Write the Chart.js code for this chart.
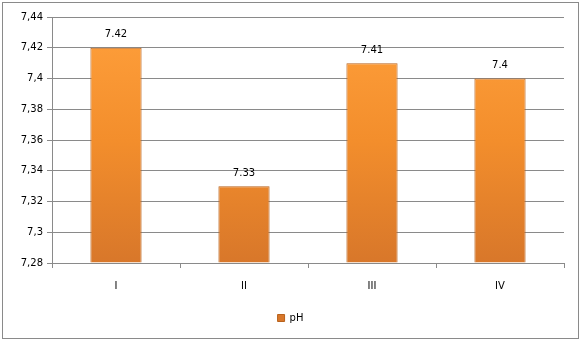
<!DOCTYPE html>
<html>
<head>
<meta charset="utf-8">
<script src="https://cdn.jsdelivr.net/npm/chart.js@4/dist/chart.umd.min.js"></script>
<style>
  html, body { margin: 0; padding: 0; background: #fff; }
  #wrap { width: 581px; height: 341px; }
</style>
</head>
<body>
<div id="wrap"><canvas id="chart" width="581" height="341"></canvas></div>
<script>
// Donnees du graphique
const categories = ['I', 'II', 'III', 'IV'];
const valeursPH = [7.42, 7.33, 7.41, 7.4];
const nomSerie = 'pH';
const yMin = 7.28;
const yMax = 7.44;
const yPas = 0.02;

const police = '"DejaVu Sans", Verdana, sans-serif';

// Degrade orange des barres
function degradeBarre(context) {
    const chart = context.chart;
    const area = chart.chartArea;
    if (!area) return '#F7922F';
    const g = chart.ctx.createLinearGradient(0, area.top, 0, area.bottom);
    g.addColorStop(0, '#FFA03C');
    g.addColorStop(0.5, '#F38E2C');
    g.addColorStop(1, '#D8772A');
    return g;
}

// Cadre exterieur
const cadre = {
    id: 'cadre',
    beforeDraw(chart) {
        const ctx = chart.ctx;
        ctx.save();
        ctx.fillStyle = '#fff';
        ctx.fillRect(0, 0, chart.width, chart.height);
        ctx.strokeStyle = '#8a8a8a';
        ctx.lineWidth = 1;
        ctx.strokeRect(2.5, 2.5, chart.width - 5, chart.height - 5);
        ctx.restore();
    }
};

// Etiquettes de valeur au-dessus des barres
const etiquettes = {
    id: 'etiquettes',
    afterDatasetsDraw(chart) {
        const ctx = chart.ctx;
        const meta = chart.getDatasetMeta(0);
        ctx.save();
        ctx.font = '10px ' + police;
        ctx.fillStyle = '#000';
        ctx.textAlign = 'center';
        ctx.textBaseline = 'bottom';
        meta.data.forEach((bar, i) => {
            ctx.fillText(String(valeursPH[i]), bar.x, bar.y - 8);
        });
        ctx.restore();
    }
};

new Chart(document.getElementById('chart').getContext('2d'), {
    type: 'bar',
    data: {
        labels: categories,
        datasets: [{
            label: nomSerie,
            data: valeursPH,
            base: yMin,
            backgroundColor: degradeBarre,
            borderColor: '#B8621C',
            borderWidth: 1,
            barPercentage: 0.8,
            categoryPercentage: 0.5
        }]
    },
    options: {
        responsive: false,
        animation: false,
        layout: { padding: { left: 0, right: 0, top: 17, bottom: 8 } },
        plugins: {
            legend: {
                position: 'bottom',
                labels: {
                    boxWidth: 7,
                    boxHeight: 7,
                    color: '#000',
                    font: { family: police, size: 10 },
                    padding: 10
                }
            },
            tooltip: { enabled: false }
        },
        scales: {
            x: {
                grid: { drawOnChartArea: false, color: '#8a8a8a', tickLength: 5 },
                border: { color: '#8a8a8a' },
                ticks: { color: '#000', font: { family: police, size: 10 }, padding: 12 },
                afterFit(scale) { scale.height = 40; }
            },
            y: {
                min: yMin,
                max: yMax,
                grid: { color: '#8a8a8a', tickLength: 5 },
                border: { color: '#8a8a8a' },
                ticks: {
                    stepSize: yPas,
                    color: '#000',
                    padding: 4,
                    font: { family: police, size: 10 },
                    callback: v => String(Number(v.toFixed(2))).replace('.', ',')
                },
                afterFit(scale) { scale.width = 52; }
            },
            // axe vide a droite, juste pour la marge
            marge: {
                position: 'right',
                grid: { display: false },
                border: { display: false },
                ticks: { display: false },
                afterFit(scale) { scale.width = 17; }
            }
        }
    },
    plugins: [cadre, etiquettes]
});
</script>
</body>
</html>
